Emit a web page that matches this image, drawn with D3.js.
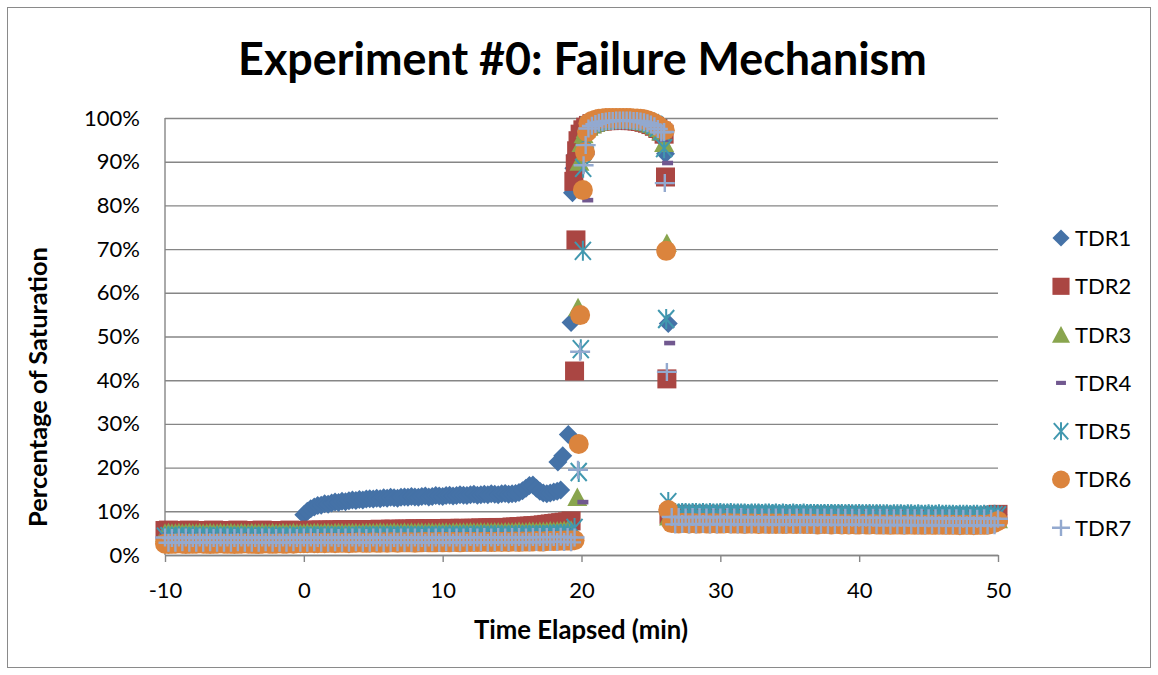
<!DOCTYPE html>
<html><head><meta charset="utf-8">
<script src="https://cdn.jsdelivr.net/npm/d3@7"></script>
<style>
body{margin:0;background:#fff}
svg{display:block}
text{font-family:Lato,"Open Sans",sans-serif;fill:#000}
</style>
</head><body>
<svg id="c" width="1158" height="675"></svg>
<script>
// ---------------- DATA ----------------
const chartTitle = "Experiment #0: Failure Mechanism";
const xTitle = "Time Elapsed (min)";
const yTitle = "Percentage of Saturation";
const xTicks = [-10, 0, 10, 20, 30, 40, 50];
const yTicks = [0, 10, 20, 30, 40, 50, 60, 70, 80, 90, 100];
const seriesNames = ["TDR1", "TDR2", "TDR3", "TDR4", "TDR5", "TDR6", "TDR7"];
const seriesColors = ["#4572A7", "#AA4643", "#89A54E", "#71588F", "#4198AF", "#DB843D", "#93A9CF"];
const seriesMarkers = ["diamond", "square", "triangle", "dash", "star", "circle", "plus"];

// sampling: logger records every 0.25 min
const sampleStep = 0.25;
const preStart = -10;   // -10 .. -0.25
const midStart = 0;     // 0 .. 19
const topStart = 20.5;  // 20.5 .. 25.75
const postStart = 26.5; // 26.5 .. 50

// ---- TDR1 (%) ----
const tdr1Pre = [];
const tdr1Mid = [9.2,10.0,10.6,11.0,11.3,11.4,11.7,11.6,11.9,12.1,
12.0,12.3,12.2,12.4,12.6,12.5,12.7,12.6,12.8,12.9,
12.8,13.0,12.9,13.1,13.0,13.2,13.1,13.0,13.2,13.3,
13.2,13.4,13.3,13.2,13.4,13.5,13.3,13.4,13.6,13.5,
13.4,13.6,13.7,13.5,13.6,13.8,13.7,13.6,13.8,13.9,
13.7,13.8,13.9,13.8,14.0,13.9,13.8,14.0,14.1,13.9,
14.0,14.1,14.3,14.7,15.3,15.9,16.0,15.3,14.6,14.2,
14.0,14.2,14.4,14.6,14.9];
const tdr1Rise = [[18.3,21.3],[18.65,22.7],[19.05,27.6],[19.25,53.2],[19.35,82.9],[19.45,88.5],[19.55,91.5],[19.7,94.0],[19.85,95.6],[20.0,96.6],[20.15,97.4],[20.3,98.0]];
const tdr1Top = [98.5,98.9,99.2,99.4,99.5,99.6,99.7,99.7,99.8,99.8,99.8,99.8,99.8,99.7,99.7,99.6,99.5,99.3,99.0,98.6,98.0,97.2];
const tdr1Fall = [[25.9,95.0],[26.05,91.8],[26.25,53.0],[26.3,9.6]];
const tdr1Post = [9.5,9.4,9.4,9.5,9.4,9.4,9.4,9.5,9.4,9.4,
9.4,9.4,9.3,9.4,9.4,9.4,9.3,9.4,9.4,9.3,
9.4,9.3,9.3,9.4,9.3,9.3,9.3,9.4,9.3,9.3,
9.3,9.3,9.2,9.3,9.3,9.3,9.2,9.3,9.3,9.2,
9.3,9.2,9.2,9.3,9.2,9.2,9.2,9.3,9.2,9.2,
9.2,9.2,9.1,9.2,9.2,9.2,9.1,9.2,9.2,9.1,
9.2,9.1,9.1,9.2,9.1,9.1,9.1,9.2,9.1,9.1,
9.1,9.1,9.0,9.1,9.1,9.1,9.0,9.1,9.1,9.0,
9.1,9.0,9.0,9.1,9.0,9.0,9.0,9.1,9.0,9.0,
9.0,9.1,9.0,9.1,9.2];

// ---- TDR2 (%) ----
const tdr2Pre = [5.6,5.7,5.6,5.6,5.5,5.6,5.6,5.7,5.6,5.6,
5.6,5.5,5.6,5.6,5.7,5.6,5.6,5.6,5.5,5.6,
5.6,5.7,5.6,5.6,5.6,5.6,5.5,5.6,5.7,5.6,
5.6,5.6,5.6,5.5,5.6,5.6,5.7,5.6,5.6,5.6];
const tdr2Mid = [5.6,5.6,5.7,5.6,5.7,5.7,5.6,5.7,5.7,5.7,
5.7,5.8,5.7,5.7,5.8,5.8,5.7,5.8,5.8,5.8,
5.8,5.8,5.9,5.8,5.8,5.9,5.9,5.8,5.9,5.9,
5.9,5.9,6.0,5.9,5.9,6.0,6.0,5.9,6.0,6.0,
6.0,6.0,6.1,6.0,6.0,6.1,6.1,6.0,6.1,6.1,
6.1,6.2,6.1,6.2,6.2,6.2,6.3,6.2,6.3,6.3,
6.4,6.4,6.5,6.5,6.6,6.6,6.7,6.7,6.8,6.9,
7.0,7.1,7.2,7.3,7.4,7.5,7.6];
const tdr2Rise = [[19.25,7.8],[19.5,42.1],[19.6,72.1],[19.45,85.5],[19.55,89.5],[19.65,92.5],[19.75,94.8],[19.9,96.3],[20.1,97.3],[20.3,97.9]];
const tdr2Top = [98.3,98.7,99.0,99.2,99.3,99.4,99.4,99.5,99.5,99.5,99.5,99.5,99.4,99.4,99.3,99.2,99.0,98.8,98.5,98.1,97.6,97.0];
const tdr2Fall = [[25.95,96.3],[26.05,86.5],[26.15,40.3],[26.3,9.3]];
const tdr2Post = [9.2,9.1,9.1,9.2,9.1,9.1,9.1,9.2,9.1,9.1,
9.1,9.1,9.0,9.1,9.1,9.1,9.0,9.1,9.1,9.0,
9.1,9.0,9.0,9.1,9.0,9.0,9.0,9.1,9.0,9.0,
9.0,9.0,8.9,9.0,9.0,9.0,8.9,9.0,9.0,8.9,
9.0,8.9,8.9,9.0,8.9,8.9,8.9,9.0,8.9,8.9,
8.9,8.9,8.8,8.9,8.9,8.9,8.8,8.9,8.9,8.8,
8.9,8.8,8.8,8.9,8.8,8.8,8.8,8.9,8.8,8.8,
8.8,8.8,8.7,8.8,8.8,8.8,8.7,8.8,8.8,8.7,
8.8,8.7,8.7,8.8,8.7,8.7,8.7,8.8,8.7,8.7,
8.7,8.8,8.9,9.1,9.3];

// ---- TDR3 (%) ----
const tdr3Pre = [5.1,5.2,5.1,5.1,5.2,5.1,5.1,5.2,5.1,5.1,
5.2,5.1,5.1,5.2,5.1,5.1,5.2,5.1,5.1,5.2,
5.1,5.1,5.2,5.1,5.1,5.2,5.1,5.1,5.2,5.1,
5.1,5.2,5.1,5.1,5.2,5.1,5.1,5.2,5.1,5.1];
const tdr3Mid = [5.1,5.2,5.1,5.2,5.2,5.1,5.2,5.2,5.1,5.2,
5.2,5.2,5.1,5.2,5.2,5.2,5.1,5.2,5.2,5.2,
5.2,5.2,5.3,5.2,5.2,5.2,5.3,5.2,5.2,5.3,
5.2,5.3,5.2,5.3,5.3,5.2,5.3,5.3,5.2,5.3,
5.3,5.3,5.2,5.3,5.3,5.3,5.3,5.3,5.4,5.3,
5.3,5.4,5.3,5.4,5.3,5.4,5.4,5.3,5.4,5.4,
5.4,5.4,5.5,5.4,5.4,5.5,5.5,5.4,5.5,5.5,
5.5,5.6,5.5,5.6,5.6,5.7,5.7];
const tdr3Rise = [[19.25,5.8],[19.7,13.3],[19.75,56.7],[19.85,90.0],[20.0,94.3],[20.15,96.3],[20.3,97.5]];
const tdr3Top = [98.0,98.5,98.9,99.2,99.4,99.5,99.6,99.7,99.7,99.7,99.7,99.7,99.6,99.6,99.5,99.4,99.2,99.0,98.7,98.3,97.7,96.9];
const tdr3Fall = [[25.95,94.3],[26.15,71.4],[26.3,8.8]];
const tdr3Post = [8.6,8.6,8.5,8.6,8.6,8.5,8.6,8.5,8.5,8.6,
8.5,8.5,8.6,8.5,8.5,8.5,8.6,8.5,8.5,8.5,
8.5,8.4,8.5,8.5,8.5,8.4,8.5,8.5,8.4,8.5,
8.4,8.5,8.4,8.4,8.5,8.4,8.4,8.5,8.4,8.4,
8.4,8.4,8.3,8.4,8.4,8.4,8.3,8.4,8.4,8.3,
8.4,8.3,8.4,8.3,8.3,8.4,8.3,8.3,8.4,8.3,
8.3,8.3,8.3,8.2,8.3,8.3,8.3,8.2,8.3,8.3,
8.2,8.3,8.2,8.2,8.3,8.2,8.2,8.3,8.2,8.2,
8.2,8.2,8.1,8.2,8.2,8.2,8.1,8.2,8.2,8.1,
8.2,8.1,8.2,8.1,8.2];

// ---- TDR4 (%) ----
const tdr4Pre = [4.6,4.7,4.6,4.6,4.7,4.6,4.6,4.7,4.6,4.6,
4.7,4.6,4.6,4.7,4.6,4.6,4.7,4.6,4.6,4.7,
4.6,4.6,4.7,4.6,4.6,4.7,4.6,4.6,4.7,4.6,
4.6,4.7,4.6,4.6,4.7,4.6,4.6,4.7,4.6,4.6];
const tdr4Mid = [4.6,4.7,4.7,4.6,4.7,4.7,4.6,4.7,4.7,4.7,
4.7,4.7,4.8,4.7,4.7,4.8,4.7,4.8,4.8,4.7,
4.8,4.8,4.8,4.7,4.8,4.8,4.8,4.8,4.9,4.8,
4.8,4.9,4.8,4.9,4.9,4.8,4.9,4.9,4.9,4.9,
4.9,5.0,4.9,4.9,5.0,4.9,5.0,5.0,4.9,5.0,
5.0,5.0,5.0,5.1,5.0,5.0,5.1,5.0,5.1,5.1,
5.1,5.1,5.2,5.1,5.1,5.2,5.2,5.2,5.2,5.3,
5.3,5.3,5.4,5.4,5.5,5.5,5.6];
const tdr4Rise = [[19.25,5.6],[20.1,12.1],[20.45,81.2],[20.55,92.0]];
const tdr4Top = [96.5,97.8,98.5,98.9,99.2,99.4,99.5,99.6,99.6,99.6,99.6,99.6,99.5,99.5,99.4,99.3,99.1,98.9,98.6,98.2,97.6,96.8];
const tdr4Fall = [[26.0,95.0],[26.2,89.7],[26.35,48.5]];
const tdr4Post = [8.9,8.9,8.8,8.9,8.9,8.8,8.9,8.8,8.9,8.9,
8.8,8.9,8.8,8.8,8.9,8.8,8.8,8.9,8.8,8.8,
8.8,8.8,8.7,8.8,8.8,8.8,8.7,8.8,8.8,8.7,
8.8,8.7,8.8,8.7,8.7,8.8,8.7,8.7,8.8,8.7,
8.7,8.7,8.7,8.6,8.7,8.7,8.7,8.6,8.7,8.7,
8.6,8.7,8.6,8.6,8.7,8.6,8.6,8.7,8.6,8.6,
8.6,8.6,8.5,8.6,8.6,8.6,8.5,8.6,8.6,8.5,
8.6,8.5,8.6,8.5,8.5,8.6,8.5,8.5,8.6,8.5,
8.5,8.5,8.5,8.4,8.5,8.5,8.5,8.4,8.5,8.5,
8.5,8.7,9.0,9.4,9.9];

// ---- TDR5 (%) ----
const tdr5Pre = [4.2,4.3,4.2,4.2,4.3,4.2,4.2,4.2,4.3,4.2,
4.2,4.3,4.2,4.2,4.2,4.3,4.2,4.2,4.3,4.2,
4.2,4.2,4.3,4.2,4.2,4.3,4.2,4.2,4.2,4.3,
4.2,4.2,4.3,4.2,4.2,4.2,4.3,4.2,4.2,4.3];
const tdr5Mid = [4.2,4.3,4.2,4.3,4.3,4.2,4.3,4.3,4.3,4.2,
4.3,4.3,4.3,4.3,4.2,4.3,4.3,4.3,4.4,4.3,
4.3,4.3,4.4,4.3,4.3,4.4,4.3,4.4,4.4,4.3,
4.4,4.4,4.3,4.4,4.4,4.4,4.4,4.3,4.4,4.4,
4.4,4.4,4.5,4.4,4.4,4.4,4.5,4.4,4.4,4.5,
4.4,4.5,4.5,4.4,4.5,4.5,4.5,4.5,4.4,4.5,
4.5,4.5,4.6,4.5,4.5,4.6,4.5,4.6,4.6,4.6,
4.6,4.7,4.7,4.7,4.8,4.8,4.9];
const tdr5Rise = [[19.5,6.2],[19.8,19.0],[19.95,47.1],[20.1,69.6],[20.12,88.6],[20.3,95.2]];
const tdr5Top = [98.2,98.7,99.0,99.3,99.5,99.6,99.7,99.7,99.8,99.8,99.8,99.8,99.7,99.7,99.6,99.5,99.3,99.1,98.8,98.4,97.8,97.0];
const tdr5Fall = [[25.95,93.1],[26.1,54.0],[26.25,12.1]];
const tdr5Post = [9.6,9.6,9.5,9.6,9.6,9.5,9.6,9.6,9.5,9.6,
9.5,9.6,9.5,9.5,9.6,9.5,9.5,9.6,9.5,9.5,
9.5,9.5,9.4,9.5,9.5,9.5,9.4,9.5,9.5,9.4,
9.5,9.4,9.5,9.4,9.4,9.5,9.4,9.4,9.5,9.4,
9.4,9.4,9.4,9.3,9.4,9.4,9.4,9.3,9.4,9.4,
9.3,9.4,9.3,9.3,9.4,9.3,9.3,9.4,9.3,9.3,
9.3,9.3,9.3,9.2,9.3,9.3,9.3,9.2,9.3,9.3,
9.2,9.3,9.2,9.2,9.3,9.2,9.2,9.3,9.2,9.2,
9.2,9.2,9.1,9.2,9.2,9.2,9.1,9.2,9.2,9.1,
9.2,9.1,9.1,9.2,9.1];

// ---- TDR6 (%) ----
const tdr6Pre = [2.6,2.5,2.6,2.6,2.7,2.6,2.5,2.6,2.6,2.6,
2.7,2.6,2.6,2.5,2.6,2.6,2.7,2.6,2.6,2.6,
2.5,2.6,2.6,2.7,2.6,2.6,2.6,2.5,2.6,2.7,
2.6,2.6,2.6,2.7,2.6,2.6,2.7,2.6,2.7,2.7];
const tdr6Mid = [2.7,2.7,2.8,2.7,2.7,2.8,2.7,2.8,2.8,2.7,
2.8,2.8,2.8,2.7,2.8,2.8,2.9,2.8,2.8,2.8,
2.9,2.8,2.8,2.9,2.8,2.9,2.9,2.8,2.9,2.9,
2.9,2.9,2.8,2.9,2.9,3.0,2.9,2.9,2.9,3.0,
2.9,3.0,2.9,3.0,3.0,2.9,3.0,3.0,3.0,3.0,
3.0,3.0,3.1,3.0,3.0,3.0,3.1,3.0,3.1,3.0,
3.1,3.1,3.0,3.1,3.1,3.1,3.1,3.2,3.1,3.1,
3.2,3.2,3.2,3.2,3.3,3.3,3.3];
const tdr6Rise = [[19.25,3.3],[19.5,3.4],[19.8,25.4],[19.9,54.9],[20.1,83.5],[20.25,92.2],[20.4,96.8]];
const tdr6Top = [98.8,99.3,99.6,99.8,99.9,100,100,100,100,100,100,100,100,99.9,99.9,99.8,99.7,99.5,99.2,98.8,98.3,97.6];
const tdr6Fall = [[26.0,97.2],[26.1,69.6],[26.25,10.3]];
const tdr6Post = [7.3,7.3,7.2,7.3,7.3,7.2,7.3,7.2,7.2,7.3,
7.2,7.2,7.3,7.2,7.2,7.2,7.3,7.2,7.2,7.2,
7.2,7.1,7.2,7.2,7.2,7.1,7.2,7.2,7.1,7.2,
7.1,7.2,7.1,7.1,7.2,7.1,7.1,7.2,7.1,7.1,
7.1,7.1,7.0,7.1,7.1,7.1,7.0,7.1,7.1,7.0,
7.1,7.0,7.1,7.0,7.0,7.1,7.0,7.0,7.1,7.0,
7.0,7.0,7.0,6.9,7.0,7.0,7.0,6.9,7.0,7.0,
6.9,7.0,6.9,6.9,7.0,6.9,6.9,7.0,6.9,6.9,
6.9,6.9,6.9,6.8,6.9,6.9,6.9,6.8,6.9,6.9,
6.9,6.9,7.1,7.4,7.8];

// ---- TDR7 (%) ----
const tdr7Pre = [4.0,2.8,3.9,2.8,4.0,2.9,4.0,2.8,3.9,2.8,
4.0,2.8,4.0,2.9,3.9,2.8,4.0,2.8,4.0,2.8,
3.9,2.9,4.0,2.8,4.0,2.8,3.9,2.8,4.0,2.9,
4.0,2.8,3.9,2.8,4.0,2.8,4.0,2.9,3.9,2.8];
const tdr7Mid = [4.0,2.8,4.0,2.9,3.9,2.8,4.0,2.8,4.0,2.9,
3.9,2.8,4.0,2.8,4.0,2.9,4.0,2.8,3.9,2.8,
4.0,2.9,4.0,2.8,4.0,2.8,3.9,2.9,4.0,2.8,
4.0,2.8,4.0,2.9,3.9,2.8,4.0,2.9,4.0,2.8,
4.0,2.9,4.0,2.8,4.0,2.9,4.0,2.8,4.1,2.9,
4.0,2.9,4.1,2.8,4.0,2.9,4.1,2.9,4.0,2.9,
4.1,2.9,4.1,2.9,4.0,2.9,4.1,3.0,4.1,2.9,
4.1,3.0,4.1,3.0,4.2,3.0,4.1];
const tdr7Rise = [[19.25,2.9],[19.5,4.0],[19.75,19.5],[19.9,46.5],[20.15,89.2],[20.3,93.8]];
const tdr7Top = [97.6,98.2,98.6,98.9,99.1,99.2,99.3,99.3,99.4,99.4,99.4,99.4,99.4,99.3,99.3,99.2,99.0,98.8,98.5,98.1,97.5,96.7];
const tdr7Fall = [[25.95,96.8],[26.0,85.1],[26.15,41.9]];
const tdr7Post = [8.7,7.0,8.7,7.1,8.6,7.0,8.7,7.0,8.7,7.1,
8.6,7.0,8.7,7.0,8.6,7.1,8.7,7.0,8.6,7.0,
8.7,7.0,8.6,7.0,8.6,7.1,8.6,7.0,8.6,6.9,
8.6,7.0,8.6,7.0,8.5,7.0,8.6,6.9,8.6,7.0,
8.6,6.9,8.5,7.0,8.6,6.9,8.5,6.9,8.6,6.9,
8.5,6.9,8.5,7.0,8.5,6.9,8.5,6.9,8.5,6.9,
8.5,6.8,8.5,6.9,8.4,6.9,8.5,6.8,8.5,6.9,
8.4,6.8,8.5,6.8,8.4,6.9,8.4,6.8,8.4,6.8,
8.4,6.8,8.4,6.8,8.3,6.8,8.4,6.8,8.3,6.8,
8.4,6.8,8.3,6.8,8.3];

const seriesParts = [
  [tdr1Pre, tdr1Mid, tdr1Rise, tdr1Top, tdr1Fall, tdr1Post],
  [tdr2Pre, tdr2Mid, tdr2Rise, tdr2Top, tdr2Fall, tdr2Post],
  [tdr3Pre, tdr3Mid, tdr3Rise, tdr3Top, tdr3Fall, tdr3Post],
  [tdr4Pre, tdr4Mid, tdr4Rise, tdr4Top, tdr4Fall, tdr4Post],
  [tdr5Pre, tdr5Mid, tdr5Rise, tdr5Top, tdr5Fall, tdr5Post],
  [tdr6Pre, tdr6Mid, tdr6Rise, tdr6Top, tdr6Fall, tdr6Post],
  [tdr7Pre, tdr7Mid, tdr7Rise, tdr7Top, tdr7Fall, tdr7Post]
];

// ---------------- BUILD ----------------
function sampled(start, vals){ return vals.map((v,i)=>({t:start+i*sampleStep, v})); }
function paired(arr){ return arr.map(p=>({t:p[0], v:p[1]})); }
const seriesData = seriesParts.map(([pre, mid, rise, top, fall, post]) => [
  ...sampled(preStart, pre), ...sampled(midStart, mid), ...paired(rise),
  ...sampled(topStart, top), ...paired(fall), ...sampled(postStart, post)
]);

const W = 1158, H = 675;
const plot = {l:165, r:998, t:118, b:555};
const svg = d3.select("#c");
svg.append("rect").attr("width", W).attr("height", H).attr("fill", "#fff");
svg.append("rect").attr("x", 7.5).attr("y", 7.5).attr("width", 1143).attr("height", 660)
  .attr("fill", "none").attr("stroke", "#8a8a8a").attr("stroke-width", 1);

const x = d3.scaleLinear().domain([-10, 50]).range([plot.l, plot.r]);
const y = d3.scaleLinear().domain([0, 100]).range([plot.b, plot.t]);
const gridColor = "#868686";

// y gridlines + labels
const gy = svg.append("g").attr("transform", `translate(${plot.l},0)`)
  .call(d3.axisLeft(y).tickValues(yTicks).tickSize(-(plot.r - plot.l)).tickPadding(25).tickFormat(d => d + "%"));
gy.select(".domain").remove();
gy.selectAll(".tick line").attr("stroke", gridColor).attr("stroke-width", 1.4);
gy.selectAll(".tick text").attr("font-size", 22).attr("fill", "#000").attr("font-family", "Lato");

// y axis line
svg.append("line").attr("x1", plot.l).attr("x2", plot.l).attr("y1", plot.t).attr("y2", plot.b)
  .attr("stroke", gridColor).attr("stroke-width", 1.4);

// x axis
const gx = svg.append("g").attr("transform", `translate(0,${plot.b})`)
  .call(d3.axisBottom(x).tickValues(xTicks).tickSize(7).tickSizeOuter(0).tickFormat(d => d));
gx.select(".domain").attr("stroke", gridColor).attr("stroke-width", 1.4);
gx.selectAll(".tick line").attr("stroke", gridColor).attr("stroke-width", 1.4);
gx.selectAll(".tick text").attr("font-size", 22).attr("fill", "#000").attr("font-family", "Lato")
  .attr("y", 43).attr("dy", 0);

// marker shapes
function drawMarker(g, type, color, s) {
  s = s || 1;
  if (type === "diamond") g.append("path").attr("d", `M0,${-9.5*s}L${9.5*s},0L0,${9.5*s}L${-9.5*s},0Z`).attr("fill", color);
  else if (type === "square") g.append("rect").attr("x", -9.5*s).attr("y", -9.5*s).attr("width", 19*s).attr("height", 19*s).attr("fill", color);
  else if (type === "triangle") g.append("path").attr("d", `M0,${-9.5*s}L${10*s},${9*s}L${-10*s},${9*s}Z`).attr("fill", color);
  else if (type === "dash") g.append("rect").attr("x", -5.5*s).attr("y", -2.3*s).attr("width", 11*s).attr("height", 4.6*s).attr("fill", color);
  else if (type === "star") g.append("path").attr("d", `M${-8*s},${-9*s}L${8*s},${9*s}M${-8*s},${9*s}L${8*s},${-9*s}M0,${-10*s}V${10*s}`).attr("stroke", color).attr("stroke-width", 2).attr("fill", "none");
  else if (type === "circle") g.append("circle").attr("r", 10*s).attr("fill", color);
  else if (type === "plus") g.append("path").attr("d", `M${-10*s},0H${10*s}M0,${-9*s}V${9*s}`).attr("stroke", color).attr("stroke-width", 2.4).attr("fill", "none");
}

const marks = svg.append("g");
seriesData.forEach((pts, i) => {
  const sg = marks.append("g").attr("class", "series-" + seriesNames[i]);
  pts.forEach(p => {
    const g = sg.append("g").attr("transform", `translate(${x(p.t)},${y(p.v)})`);
    drawMarker(g, seriesMarkers[i], seriesColors[i], 1);
  });
});

// legend
const legend = svg.append("g");
seriesNames.forEach((name, i) => {
  const cy = 238 + i * 48.3;
  const g = legend.append("g").attr("transform", `translate(1061,${cy})`);
  drawMarker(g, seriesMarkers[i], seriesColors[i], 0.9);
  legend.append("text").attr("x", 1075).attr("y", cy).attr("dy", "0.36em")
    .attr("font-size", 22).text(name);
});

// titles, fitted to reference widths
function fitText(sel, targetW) {
  const w = sel.node().getComputedTextLength();
  const fs = parseFloat(sel.attr("font-size"));
  sel.attr("font-size", fs * targetW / w);
}
const title = svg.append("text").attr("x", 582.5).attr("y", 75).attr("text-anchor", "middle")
  .attr("font-size", 42).attr("font-weight", "bold").text(chartTitle);
fitText(title, 689);
const xt = svg.append("text").attr("x", 581).attr("y", 639).attr("text-anchor", "middle")
  .attr("font-size", 21).attr("font-weight", "bold").text(xTitle);
fitText(xt, 214);
const yt = svg.append("text").attr("transform", "translate(47,387) rotate(-90)").attr("text-anchor", "middle")
  .attr("font-size", 21).attr("font-weight", "bold").text(yTitle);
fitText(yt, 280);
</script>
</body></html>
